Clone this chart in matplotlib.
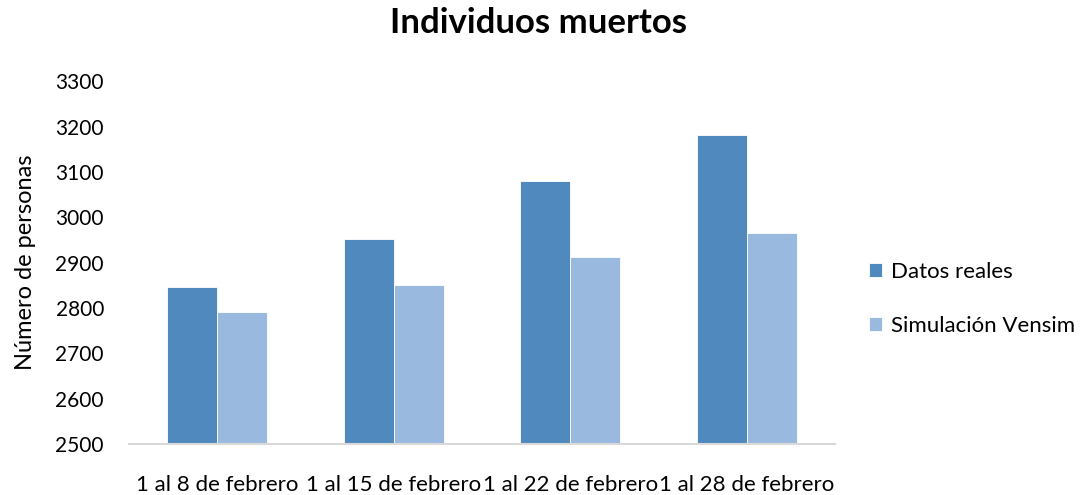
import matplotlib.pyplot as plt
import numpy as np

plt.rcParams['font.family'] = ['Lato', 'DejaVu Sans']

categories = ["1 al 8 de febrero", "1 al 15 de febrero", "1 al 22 de febrero", "1 al 28 de febrero"]
datos_reales = [2846, 2953, 3080, 3182]
simulacion = [2792, 2851, 2912, 2965]

fig = plt.figure(figsize=(10.83, 4.95), dpi=100)
ax = fig.add_axes([0.119, 0.103, 0.652, 0.733])

x = np.arange(len(categories))
w = 0.283
ax.bar(x - w / 2, datos_reales, w, color='#4F89BD', edgecolor='white', linewidth=0.6, label='Datos reales')
ax.bar(x + w / 2, simulacion, w, color='#99B9DF', edgecolor='white', linewidth=0.6, label='Simulación Vensim')

ax.set_ylim(2500, 3300)
ax.set_yticks(range(2500, 3301, 100))
ax.set_xlim(-0.5, 3.5)
ax.set_xticks(x)
ax.set_xticklabels(categories)

for s in ['top', 'right', 'left']:
    ax.spines[s].set_visible(False)
ax.spines['bottom'].set_color('#D9D9D9')
ax.spines['bottom'].set_linewidth(1.5)
ax.tick_params(axis='y', length=0, pad=18, labelsize=15)
ax.tick_params(axis='x', length=0, pad=22, labelsize=16)

ax.set_ylabel('Número de personas', fontsize=17, labelpad=14)
fig.suptitle('Individuos muertos', fontsize=25, fontweight='bold', x=0.497, y=0.985)

ax.legend(loc='center left', bbox_to_anchor=(1.02, 0.40), frameon=False, fontsize=16,
          handlelength=0.6, handleheight=0.6, handletextpad=0.4, labelspacing=1.55)

plt.savefig('out.png', dpi=100)
